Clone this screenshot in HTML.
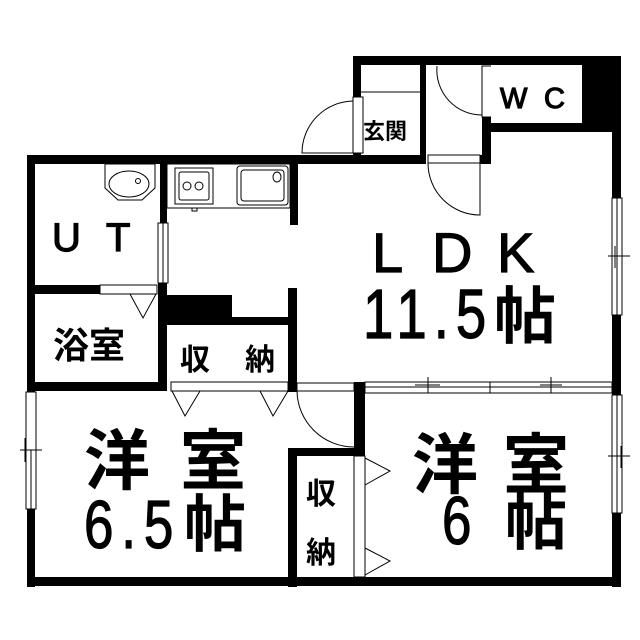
<!DOCTYPE html>
<html><head><meta charset="utf-8"><style>
html,body{margin:0;padding:0;background:#fff}
svg{display:block}
text{font-family:"Liberation Sans","Noto Sans CJK JP",sans-serif;fill:#000}
.l{stroke:#000;stroke-width:1.2}
</style></head><body>
<svg width="640" height="640" viewBox="0 0 640 640" xmlns="http://www.w3.org/2000/svg">
<rect width="640" height="640" fill="#fff"/>
<g fill="#000">
<rect x="27" y="155" width="273" height="9"/>
<rect x="27" y="155" width="8" height="432"/>
<rect x="27" y="577" width="594" height="9"/>
<rect x="612" y="56" width="9" height="531"/>
<rect x="353" y="56" width="268" height="9"/>
<rect x="353" y="56" width="8" height="42"/>
<rect x="353" y="153" width="8" height="11"/>
<rect x="300" y="155" width="126" height="9"/>
<rect x="420" y="60" width="6" height="104"/>
<rect x="482" y="117" width="9" height="47"/>
<rect x="480" y="155" width="11" height="9"/>
<rect x="582" y="56" width="39" height="76"/>
<rect x="491" y="123" width="130" height="9"/>
<rect x="160" y="164" width="7" height="59"/>
<rect x="35" y="285" width="65" height="9"/>
<rect x="158" y="283" width="9" height="107"/>
<rect x="167" y="295" width="65" height="22"/>
<rect x="167" y="317" width="128" height="8"/>
<rect x="290" y="164" width="8" height="61"/>
<rect x="288" y="288" width="9" height="102"/>
<rect x="27" y="382" width="140" height="9"/>
<rect x="288" y="382" width="9" height="10"/>
<rect x="354" y="382" width="11" height="74"/>
<rect x="288" y="448" width="77" height="8"/>
<rect x="288" y="448" width="9" height="139"/>
</g>
<g fill="#fff" stroke="#000" stroke-width="1">
<rect x="26" y="392" width="10" height="117"/>
<rect x="612" y="198" width="10" height="117"/>
<rect x="612" y="395" width="10" height="118"/>
<rect x="353" y="97" width="10" height="56"/>
<rect x="428" y="155" width="52" height="8"/>
<rect x="482" y="66" width="10" height="51"/>
<rect x="158" y="223" width="10" height="60"/>
<rect x="100" y="285" width="57" height="9"/>
<rect x="171" y="382" width="117" height="9"/>
<rect x="297" y="383" width="57" height="8"/>
<rect x="354" y="456" width="11" height="121"/>
<rect x="365" y="382" width="247" height="11"/>
<rect x="491" y="65" width="91" height="58" stroke="none"/>
<rect x="167" y="164" width="123" height="44"/>
<rect x="175" y="168" width="38" height="36"/>
<rect x="179" y="172" width="30" height="28" rx="2"/>
<circle cx="187" cy="186" r="4"/><circle cx="199" cy="186" r="4"/>
<rect x="237" y="166" width="51" height="39" rx="3"/>
<rect x="241" y="170" width="43" height="31" rx="3"/>
<ellipse cx="277" cy="177" rx="4" ry="5"/>
<rect x="192" y="208" width="5" height="3"/>
<path d="M105 164 V188 L118 200 H142 L155 188 V164 Z"/>
<ellipse cx="129" cy="184" rx="20" ry="13"/>
<circle cx="138" cy="181" r="2.5"/>
</g>
<g fill="none" stroke="#000" stroke-width="1">
<line x1="361" y1="92" x2="420" y2="92"/>
<path d="M353 101 A52 52 0 0 0 302 153 H353"/>
<path d="M428 163 A52 52 0 0 0 480 215 V163"/>
<path d="M437 66 A45 45 0 0 0 482 115"/>
<path d="M297 391 A57 57 0 0 0 354 447"/>
<line x1="31" y1="450" x2="31" y2="509"/><line x1="20" y1="450" x2="42" y2="450"/><line x1="25" y1="438" x2="25" y2="462"/>
<line x1="617" y1="198" x2="617" y2="315"/><line x1="608" y1="256" x2="630" y2="256"/><line x1="615" y1="246" x2="615" y2="268"/>
<line x1="617" y1="395" x2="617" y2="513"/><line x1="608" y1="456" x2="630" y2="456"/><line x1="621" y1="446" x2="621" y2="468"/>
<line x1="365" y1="387" x2="612" y2="387"/><line x1="490" y1="382" x2="490" y2="393"/>
<line x1="428" y1="377" x2="428" y2="393"/><line x1="415" y1="385" x2="440" y2="385"/>
<line x1="551" y1="377" x2="551" y2="393"/><line x1="540" y1="385" x2="562" y2="385"/>
<line x1="163" y1="223" x2="163" y2="283"/>
<path d="M130 294 L143 318 L156 294"/>
<path d="M172 391 L185 416 L200 391"/>
<path d="M260 391 L273 416 L288 391"/>
<path d="M365 458 L390 471 L365 485"/>
<path d="M365 548 L390 561 L365 575"/>
</g>
<g>
<text class="l" x="52" y="251" font-size="40">U</text>
<text class="l" x="106" y="251" font-size="40">T</text>
<text x="53" y="358" font-size="36" font-weight="bold" font-family="Noto Sans CJK JP, sans-serif">浴室</text>
<text x="180" y="370" font-size="30" font-weight="bold" font-family="Noto Sans CJK JP, sans-serif">収</text>
<text x="245" y="370" font-size="30" font-weight="bold" font-family="Noto Sans CJK JP, sans-serif">納</text>
<text x="363" y="139" font-size="22" font-weight="bold" font-family="Noto Sans CJK JP, sans-serif">玄関</text>
<text class="l" x="500" y="108" font-size="29">W</text>
<text class="l" x="544" y="108" font-size="29">C</text>
<text class="l" x="372" y="272" font-size="56">L</text>
<text class="l" x="432" y="272" font-size="56">D</text>
<text class="l" x="497" y="272" font-size="56">K</text>
<text class="l" transform="translate(363,338) scale(0.78,1)" font-size="70" letter-spacing="9">11.5</text>
<text x="494" y="338" font-size="62" font-weight="bold" font-family="Noto Sans CJK JP, sans-serif">帖</text>
<text x="84" y="484" font-size="66" font-weight="bold" font-family="Noto Sans CJK JP, sans-serif">洋</text>
<text x="180" y="484" font-size="66" font-weight="bold" font-family="Noto Sans CJK JP, sans-serif">室</text>
<text class="l" transform="translate(84,548) scale(0.78,1)" font-size="68" letter-spacing="10">6.5</text>
<text x="184" y="546" font-size="62" font-weight="bold" font-family="Noto Sans CJK JP, sans-serif">帖</text>
<text x="412" y="488" font-size="66" font-weight="bold" font-family="Noto Sans CJK JP, sans-serif">洋</text>
<text x="503" y="488" font-size="66" font-weight="bold" font-family="Noto Sans CJK JP, sans-serif">室</text>
<text class="l" transform="translate(442,544) scale(0.78,1)" font-size="68">6</text>
<text x="505" y="544" font-size="62" font-weight="bold" font-family="Noto Sans CJK JP, sans-serif">帖</text>
<text x="306" y="504" font-size="30" font-weight="bold" font-family="Noto Sans CJK JP, sans-serif">収</text>
<text x="306" y="563" font-size="30" font-weight="bold" font-family="Noto Sans CJK JP, sans-serif">納</text>
</g>
</svg>
</body></html>
